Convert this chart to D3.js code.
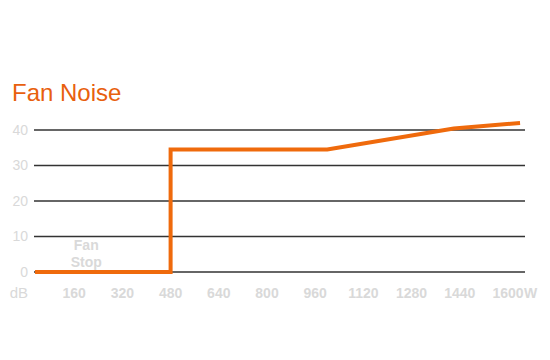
<!DOCTYPE html>
<html>
<head>
<meta charset="utf-8">
<script src="https://cdn.jsdelivr.net/npm/d3@7"></script>
<style>
  body { margin: 0; background: #fff; }
  svg { display: block; }
</style>
</head>
<body>
<svg id="chart" width="550" height="360"></svg>
<script>
const ORANGE = "#ef6a0c"
const LABEL_GREY = "#d9d9d9"

// data
const watts = [30, 480, 480, 1000, 1420, 1640]
const noise = [0, 0, 34.5, 34.5, 40.4, 42]
const xTicks = [160, 320, 480, 640, 800, 960, 1120, 1280, 1440, 1600]
const yTicks = [0, 10, 20, 30, 40]

const svg = d3.select("#chart")

const xScale = d3.scaleLinear().domain([0, 1600]).range([26, 508])
const yScale = d3.scaleLinear().domain([0, 40]).range([272, 130])

// title
svg.append("text")
    .attr("x", 12)
    .attr("y", 101)
    .style("font-family", "Liberation Sans, Arial")
    .style("font-size", "24px")
    .style("fill", "#e8600e")
    .text("Fan Noise")

// grid lines
svg.append("g")
    .selectAll("line")
    .data(yTicks)
    .enter()
    .append("line")
    .attr("x1", 34)
    .attr("x2", 525)
    .attr("y1", d => yScale(d))
    .attr("y2", d => yScale(d))
    .style("stroke", "#333")
    .style("stroke-width", 1.5)

// y labels
svg.append("g")
    .selectAll("text")
    .data(yTicks)
    .enter()
    .append("text")
    .attr("x", 28)
    .attr("y", d => yScale(d))
    .attr("dy", "0.35em")
    .attr("text-anchor", "end")
    .style("font-family", "Liberation Sans, Arial")
    .style("font-size", "14px")
    .style("fill", LABEL_GREY)
    .text(d => d)

svg.append("text")
    .attr("x", 28)
    .attr("y", 298)
    .attr("text-anchor", "end")
    .style("font-family", "Liberation Sans, Arial")
    .style("font-size", "15px")
    .style("fill", LABEL_GREY)
    .text("dB")

// x labels
svg.append("g")
    .selectAll("text")
    .data(xTicks)
    .enter()
    .append("text")
    .attr("x", d => xScale(d))
    .attr("y", 298)
    .attr("text-anchor", "middle")
    .style("font-family", "Liberation Sans, Arial")
    .style("font-size", "14px")
    .style("font-weight", "bold")
    .style("fill", LABEL_GREY)
    .text(d => d)

svg.append("text")
    .attr("x", xScale(1600) + 16)
    .attr("y", 298)
    .attr("text-anchor", "start")
    .style("font-family", "Liberation Sans, Arial")
    .style("font-size", "14px")
    .style("font-weight", "bold")
    .style("fill", LABEL_GREY)
    .text("W")

// "Fan Stop" note
const note = svg.append("text")
    .attr("text-anchor", "middle")
    .style("font-family", "Liberation Sans, Arial")
    .style("font-size", "14px")
    .style("font-weight", "bold")
    .style("fill", LABEL_GREY)
note.append("tspan").attr("x", xScale(200)).attr("y", 250).text("Fan")
note.append("tspan").attr("x", xScale(200)).attr("y", 267).text("Stop")

// noise line
const line = d3.line()
    .x((d, i) => xScale(watts[i]))
    .y(d => yScale(d))

svg.append("path")
    .datum(noise)
    .attr("d", line)
    .style("fill", "none")
    .style("stroke", ORANGE)
    .style("stroke-width", 4)
    .style("stroke-linejoin", "miter")
</script>
</body>
</html>
